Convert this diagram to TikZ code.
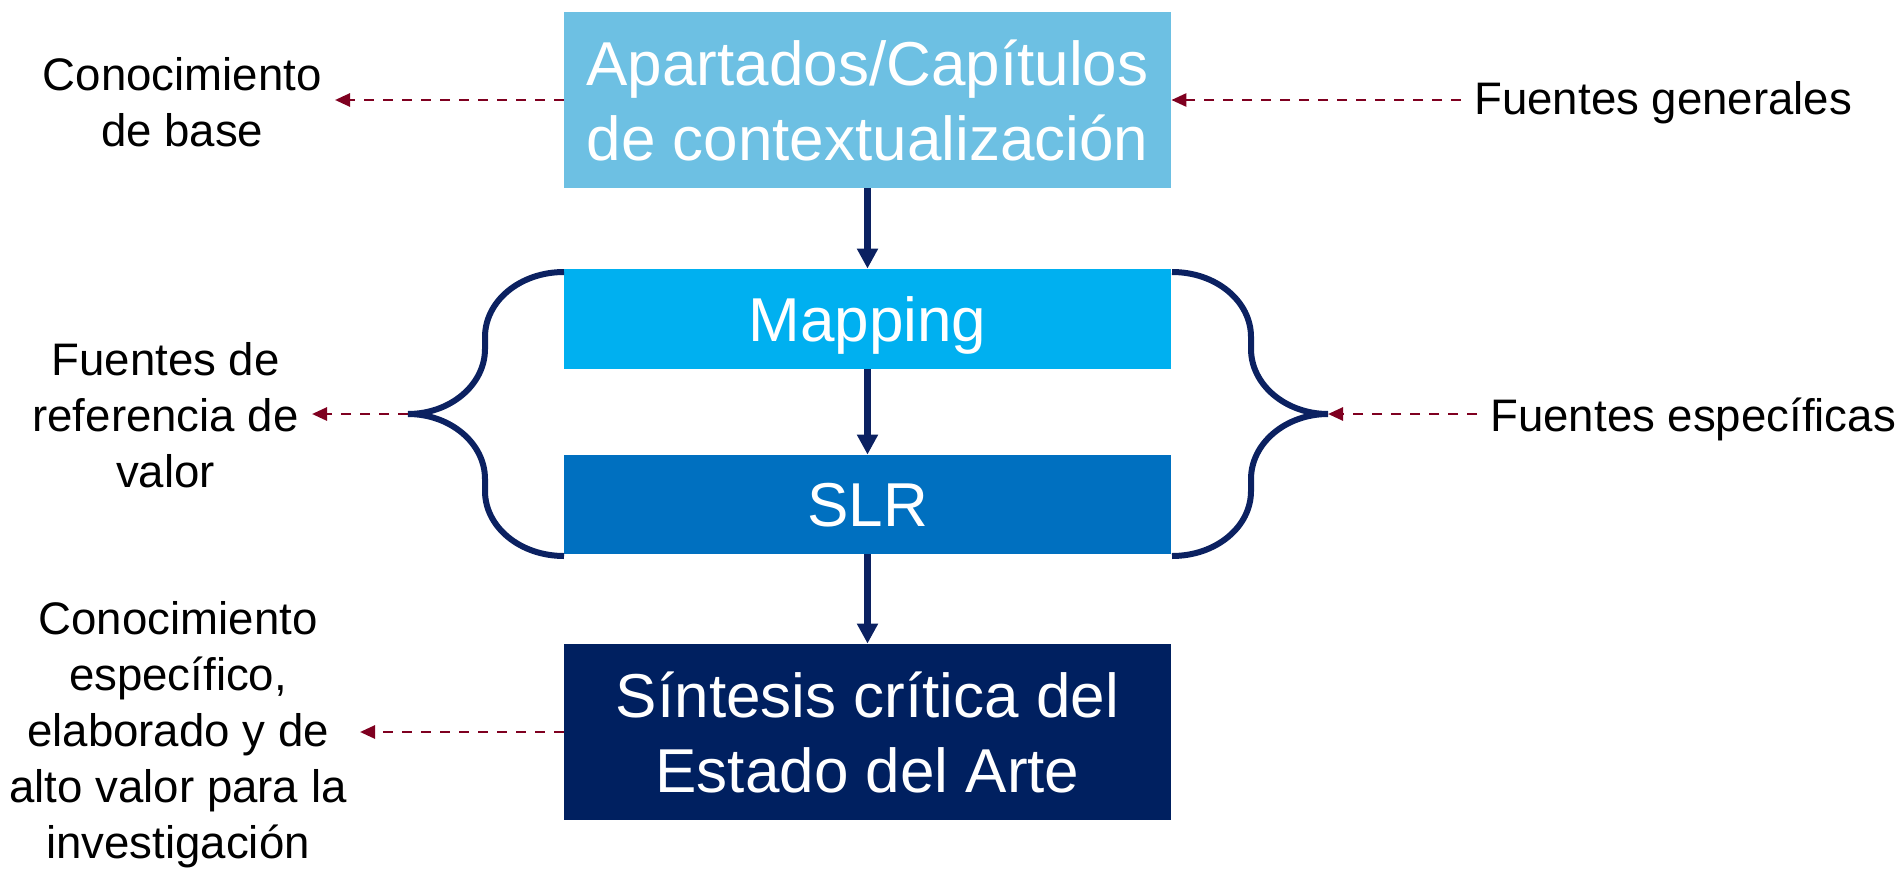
\documentclass[tikz,border=0pt]{standalone}
\usepackage{fontspec}
\setmainfont{Liberation Sans}
\usetikzlibrary{arrows.meta,calc}
\definecolor{boxA}{HTML}{6DC0E3}
\definecolor{boxB}{HTML}{00B0F0}
\definecolor{boxC}{HTML}{0070C0}
\definecolor{boxD}{HTML}{002060}
\definecolor{navy}{HTML}{0B2161}
\definecolor{darkred}{HTML}{7F0020}
\begin{document}
\begin{tikzpicture}[x=0.5pt,y=-0.5pt,
  box/.style={inner sep=0pt, minimum width=303.5pt, text=white,
    font=\fontsize{31}{37.5}\selectfont, align=center},
  capbox/.style={box, text height=22.2pt, text depth=0pt},
  side/.style={inner sep=6.5pt, font=\fontsize{22.8}{28}\selectfont, align=center},
  flow/.style={draw=navy, line width=3.2pt, -{Triangle[length=10pt,width=10pt]}},
  bracestyle/.style={draw=navy, line width=3pt},
  refarrow/.style={draw=darkred, line width=1.35pt, dash pattern=on 5pt off 4.5pt,
    -{Triangle[length=7.5pt,width=6.5pt]}}]
\useasboundingbox (0,0) rectangle (1899,872);

% main boxes
\node[box, fill=boxA, minimum height=88pt] (b1) at (867.5,100) {Apartados/Capítulos\\de contextualización};
\node[capbox, fill=boxB, minimum height=50pt] (b2) at (867.5,319) {Mapping};
\node[capbox, fill=boxC, minimum height=49.5pt] (b3) at (867.5,504.5) {SLR};
\node[box, fill=boxD, minimum height=88pt] (b4) at (867.5,732) {Síntesis crítica del\\Estado del Arte};

% flow arrows
\draw[flow] (b1.south) -- (b2.north);
\draw[flow] (b2.south) -- (b3.north);
\draw[flow] (b3.south) -- (b4.north);

% braces
\coordinate (lb) at (408,414);
\coordinate (rb) at (1328,414);
\draw[bracestyle] (564,272) .. controls (520,272) and (485,301) .. (485,337) -- (485,349)
  .. controls (485,385) and (450,414) .. (lb)
  .. controls (450,414) and (485,443) .. (485,479) -- (485,491)
  .. controls (485,527) and (520,556) .. (564,556);
\draw[bracestyle] (1172,272) .. controls (1216,272) and (1251,301) .. (1251,337) -- (1251,349)
  .. controls (1251,385) and (1286,414) .. (rb)
  .. controls (1286,414) and (1251,443) .. (1251,479) -- (1251,491)
  .. controls (1251,527) and (1216,556) .. (1172,556);

% side texts
\node[side, anchor=east] (cb) at (335,102) {Conocimiento\\de base};
\node[side, anchor=west] (gen) at (1461,103) {Fuentes generales};
\node[side, anchor=east] (fr) at (312,415) {Fuentes de\\referencia de\\valor};
\node[side, anchor=west] (fe) at (1477,419) {Fuentes específicas};
\node[side, anchor=east] (ck) at (360,735) {Conocimiento\\específico,\\elaborado y de\\alto valor para la\\investigación};

% dashed reference arrows
\draw[refarrow] (b1.west) -- (b1.west -| cb.east);
\draw[refarrow] (gen.west |- b1.east) -- (b1.east);
\draw[refarrow] (lb) -- (lb -| fr.east);
\draw[refarrow] (fe.west |- rb) -- (rb);
\draw[refarrow] (b4.west) -- (b4.west -| ck.east);
\end{tikzpicture}
\end{document}
